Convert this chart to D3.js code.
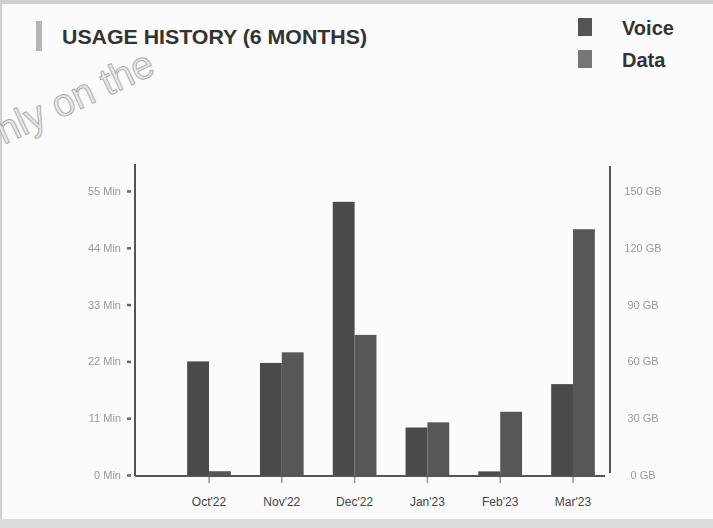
<!DOCTYPE html>
<html>
<head>
<meta charset="utf-8">
<script src="https://cdn.jsdelivr.net/npm/d3@7"></script>
<style>
  html, body { margin: 0; padding: 0; background: #fff; }
  svg { display: block; }
</style>
</head>
<body>
<svg id="chart" width="713" height="528"></svg>
<script>
// ---- data ----
const months = ["Oct'22", "Nov'22", "Dec'22", "Jan'23", "Feb'23", "Mar'23"];
const voiceMin = [22, 21.7, 52.9, 9.2, 0.7, 17.6];
const dataGB = [2, 64.8, 74, 27.8, 33.4, 129.8];
const voiceTicks = [0, 11, 22, 33, 44, 55];
const dataTicks = [0, 30, 60, 90, 120, 150];
const seriesNames = ["Voice", "Data"];

const svg = d3.select("#chart");
const W = 713, H = 528;
const FONT = "Liberation Sans, Arial, sans-serif";

const defs = svg.append("defs");
defs.append("filter").attr("id", "soft").append("feGaussianBlur").attr("stdDeviation", 0.5);

// background + frame
svg.append("rect").attr("x", 0).attr("y", 0).attr("width", W).attr("height", H).attr("fill", "#fbfbfb");
svg.append("rect").attr("x", 0).attr("y", 0).attr("width", W).attr("height", 4).attr("fill", "#cfcfcf");
svg.append("rect").attr("x", 0).attr("y", 519).attr("width", W).attr("height", 9).attr("fill", "#dcdcdc");
svg.append("rect").attr("x", 0).attr("y", 0).attr("width", 2).attr("height", 519).attr("fill", "#d0d0d0");

// watermark (cut at the left edge, as in the scan)
svg.append("text")
  .attr("transform", "translate(-16,154) rotate(-25)")
  .attr("font-family", FONT)
  .attr("font-size", 39)
  .attr("fill", "#e8e8e8")
  .attr("stroke", "#a8a8a8")
  .attr("stroke-width", 0.9)
  .text("only on the");

// title
svg.append("rect").attr("x", 36).attr("y", 21).attr("width", 6).attr("height", 30).attr("fill", "#b5b5b5");
svg.append("text")
  .attr("x", 62).attr("y", 44)
  .attr("font-family", FONT)
  .attr("font-weight", "bold")
  .attr("font-size", 20)
  .attr("fill", "#333")
  .attr("textLength", 305)
  .attr("lengthAdjust", "spacingAndGlyphs")
  .text("USAGE HISTORY (6 MONTHS)");

// scales
const x = d3.scaleBand().domain(months).range([172.6, 609.4]).paddingInner(0.4).paddingOuter(0.2);
const xs = d3.scaleBand().domain(seriesNames).range([0, x.bandwidth()]);
const yL = d3.scaleLinear().domain([0, 55]).range([475, 191]);
const yR = d3.scaleLinear().domain([0, 150]).range([475, 191]);
const colors = { Voice: "#4a4a4a", Data: "#575757" };
const legendColors = { Voice: "#555", Data: "#777" };

// legend
const lg = svg.append("g");
seriesNames.forEach((s, i) => {
  lg.append("rect").attr("x", 578).attr("y", 18 + i * 32).attr("width", 14).attr("height", 18).attr("fill", legendColors[s]);
  lg.append("text").attr("x", 622).attr("y", 35 + i * 32)
    .attr("font-family", FONT).attr("font-weight", "bold")
    .attr("font-size", 20).attr("fill", "#333").text(s);
});

// bars
const g = svg.append("g");
months.forEach((m, i) => {
  g.append("rect").attr("x", x(m) + xs("Voice")).attr("width", xs.bandwidth())
    .attr("y", yL(voiceMin[i])).attr("height", yL(0) - yL(voiceMin[i])).attr("fill", colors.Voice);
  g.append("rect").attr("x", x(m) + xs("Data")).attr("width", xs.bandwidth())
    .attr("y", yR(dataGB[i])).attr("height", yR(0) - yR(dataGB[i])).attr("fill", colors.Data);
});

// left axis
const axL = svg.append("g").attr("transform", "translate(135,0)")
  .call(d3.axisLeft(yL).tickValues(voiceTicks).tickFormat(d => d + " Min").tickSize(0).tickPadding(14));
axL.select(".domain").remove();
axL.selectAll("text").attr("font-family", FONT).attr("font-size", 11).attr("fill", "#999").attr("filter", "url(#soft)");
axL.selectAll(".tick").append("line").attr("x1", -8).attr("x2", -4).attr("stroke", "#666").attr("stroke-width", 2.5);
svg.append("line").attr("x1", 135).attr("x2", 135).attr("y1", 164).attr("y2", 476).attr("stroke", "#555").attr("stroke-width", 2);

// right axis
const axR = svg.append("g").attr("transform", "translate(609,0)")
  .call(d3.axisRight(yR).tickValues(dataTicks).tickFormat(d => d + " GB").tickSize(0).tickPadding(34));
axR.select(".domain").remove();
axR.selectAll("text").attr("text-anchor", "middle").attr("font-family", FONT).attr("font-size", 11).attr("fill", "#999").attr("filter", "url(#soft)");
svg.append("line").attr("x1", 610).attr("x2", 610).attr("y1", 166).attr("y2", 473).attr("stroke", "#555").attr("stroke-width", 2);

// baseline + bottom axis
svg.append("line").attr("x1", 135).attr("x2", 605).attr("y1", 476).attr("y2", 476).attr("stroke", "#555").attr("stroke-width", 2);
const axB = svg.append("g").attr("transform", "translate(0,477)")
  .call(d3.axisBottom(x).tickSize(6).tickPadding(14));
axB.select(".domain").remove();
axB.selectAll(".tick line").attr("stroke", "#999").attr("stroke-width", 1.5);
axB.selectAll("text").attr("font-family", FONT).attr("font-size", 12).attr("fill", "#444");
</script>
</body>
</html>
